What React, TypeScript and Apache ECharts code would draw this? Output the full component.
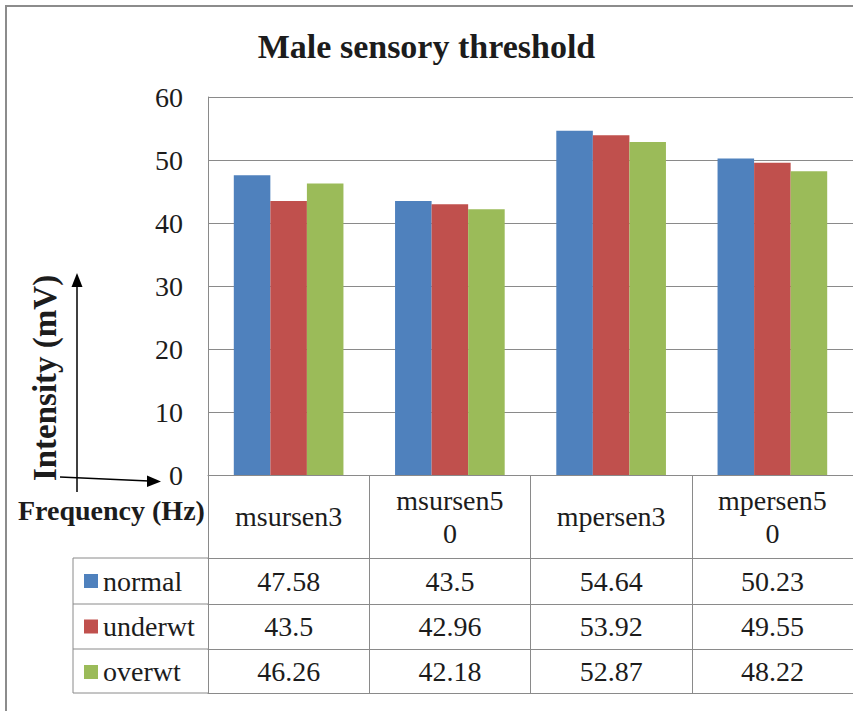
import React, { useEffect, useRef } from 'react';
import * as echarts from 'echarts';

const categories = ['msursen3', 'msursen50', 'mpersen3', 'mpersen50'];
const seriesNames = ['normal', 'underwt', 'overwt'];
const normal = [47.58, 43.5, 54.64, 50.23];
const underwt = [43.5, 42.96, 53.92, 49.55];
const overwt = [46.26, 42.18, 52.87, 48.22];
const yMin = 0;
const yMax = 60;
const yInterval = 10;
const titleText = 'Male sensory threshold';
const yTitle = 'Intensity (mV)';
const xTitle = 'Frequency (Hz)';

const FONT = 'Liberation Serif';
const GRAY = '#8a8a8a';
const TEXT = '#1c1c1c';
const COLORS = ['#4F81BD', '#C0504D', '#9BBB59'];

export default function App() {
  const ref = useRef<HTMLDivElement>(null);
  useEffect(() => {
    if (!ref.current) return;
    const chart = echarts.init(ref.current, undefined, { renderer: 'svg' });
    const rows = [normal, underwt, overwt];
    const rowOffsets = [83, 129, 174];
    const tableLeft = 73;
    const plotLeft = 208;
    const lineY = [558, 604, 649, 693];
    const fs = 28;
    const font = `${fs}px ${FONT}`;

    const option: any = {
      animation: false,
      title: {
        text: titleText,
        left: 'center',
        top: 29,
        padding: [0, 0, 0, 10],
        textStyle: { fontSize: 34, fontWeight: 'bold', fontFamily: FONT, color: TEXT },
      },
      legend: {
        data: seriesNames,
        orient: 'vertical',
        left: 84,
        top: 566,
        padding: 0,
        itemWidth: 14,
        itemHeight: 14,
        itemGap: 15.5,
        icon: 'rect',
        selectedMode: false,
        formatter: () => ' ',
        textStyle: { fontSize: 28, fontFamily: FONT, color: TEXT, lineHeight: 30 },
      },
      grid: { left: plotLeft, top: 97, right: -7, height: 378, containLabel: false },
      xAxis: [
        {
          type: 'category',
          data: categories,
          position: 'bottom',
          axisLine: { show: true, lineStyle: { color: GRAY } },
          axisTick: { show: true, length: 218, alignWithLabel: false, lineStyle: { color: GRAY } },
          axisLabel: { show: false },
          splitLine: { show: false },
        },
        ...rowOffsets.map((off) => ({
          type: 'category',
          data: categories,
          position: 'bottom',
          offset: off,
          axisLine: { show: true, lineStyle: { color: GRAY } },
          axisTick: { show: false },
          axisLabel: { show: false },
          splitLine: { show: false },
        })),
        {
          type: 'category',
          data: categories,
          position: 'bottom',
          offset: 218,
          axisLine: { show: true, lineStyle: { color: GRAY } },
          axisTick: { show: false },
          axisLabel: { show: false },
          splitLine: { show: false },
        },
      ],
      yAxis: {
        type: 'value',
        min: yMin,
        max: yMax,
        interval: yInterval,
        axisLine: { show: true, lineStyle: { color: GRAY } },
        axisTick: { show: false },
        splitLine: { show: true, lineStyle: { color: GRAY } },
        axisLabel: { show: false },
      },
      series: rows.map((r, k) => ({
        name: seriesNames[k],
        type: 'bar',
        data: r,
        xAxisIndex: 0,
        yAxisIndex: 0,
        barGap: '0%',
        barCategoryGap: '32%',
        itemStyle: { color: COLORS[k] },
      })),
    };
    chart.setOption(option);

    // positions from the library's own scales
    const catX: number[] = categories.map((c) => chart.convertToPixel({ xAxisIndex: 0 }, c) as number);
    const axisY = chart.convertToPixel({ yAxisIndex: 0 }, yMin) as number;
    const headerCenter = (axisY + lineY[0]) / 2;
    const rowCenters = [0, 1, 2].map((i) => (lineY[i] + lineY[i + 1]) / 2);

    const g: any[] = [
      {
        type: 'rect',
        silent: true,
        shape: { x: 6, y: 6, width: 900, height: 720 },
        style: { fill: 'none', stroke: '#8c8c8c', lineWidth: 2 },
      },
      ...lineY.map((y) => ({
        type: 'line',
        silent: true,
        shape: { x1: tableLeft, y1: y, x2: plotLeft, y2: y },
        style: { stroke: GRAY, lineWidth: 1 },
      })),
      {
        type: 'line',
        silent: true,
        shape: { x1: tableLeft, y1: lineY[0], x2: tableLeft, y2: lineY[3] },
        style: { stroke: GRAY, lineWidth: 1 },
      },
      {
        type: 'text',
        silent: true,
        x: 45,
        y: 378,
        rotation: Math.PI / 2,
        style: { text: yTitle, align: 'center', verticalAlign: 'middle', font: `bold 33px ${FONT}`, fill: TEXT },
      },
      {
        type: 'text',
        silent: true,
        x: 18,
        y: 510,
        style: { text: xTitle, align: 'left', verticalAlign: 'middle', font: `bold 28px ${FONT}`, fill: TEXT },
      },
      {
        type: 'line',
        silent: true,
        shape: { x1: 77, y1: 492, x2: 77, y2: 285 },
        style: { stroke: '#000', lineWidth: 1.5 },
      },
      {
        type: 'polygon',
        silent: true,
        shape: { points: [[77, 273], [71.5, 287], [82.5, 287]] },
        style: { fill: '#000' },
      },
      {
        type: 'line',
        silent: true,
        shape: { x1: 60, y1: 477, x2: 149, y2: 481 },
        style: { stroke: '#000', lineWidth: 1.5 },
      },
      {
        type: 'polygon',
        silent: true,
        shape: { points: [[161, 481.5], [147, 475.5], [147, 487]] },
        style: { fill: '#000' },
      },
    ];

    // y-axis tick labels
    for (let v = yMin; v <= yMax; v += yInterval) {
      const y = chart.convertToPixel({ yAxisIndex: 0 }, v) as number;
      g.push({
        type: 'text',
        silent: true,
        x: plotLeft - 25,
        y: y - fs / 2,
        style: { text: String(v), align: 'right', verticalAlign: 'top', font, fill: TEXT },
      });
    }

    // header row: category names (wrapped like the data table)
    categories.forEach((c, i) => {
      const st: any = { text: c, font, width: 112, overflow: 'breakAll', lineHeight: 33, align: 'center', verticalAlign: 'top', fill: TEXT };
      let h = 33;
      try {
        const t = new (echarts.graphic as any).Text({ style: { ...st } });
        const r = t.getBoundingRect();
        if (r && r.height > 0) h = r.height;
      } catch (e) {
        h = 33;
      }
      g.push({ type: 'text', silent: true, x: catX[i], y: headerCenter - h / 2, style: st });
    });

    // data rows: legend names and values
    rows.forEach((r, k) => {
      g.push({
        type: 'text',
        silent: true,
        x: 103,
        y: rowCenters[k] - fs / 2,
        style: { text: seriesNames[k], align: 'left', verticalAlign: 'top', font, fill: TEXT },
      });
      r.forEach((v, i) => {
        g.push({
          type: 'text',
          silent: true,
          x: catX[i],
          y: rowCenters[k] - fs / 2,
          style: { text: String(v), align: 'center', verticalAlign: 'top', font, fill: TEXT },
        });
      });
    });

    chart.setOption({ graphic: g });
    return () => chart.dispose();
  }, []);
  return (
    <div
      ref={ref}
      style={{ position: 'absolute', left: 0, top: 0, width: 853, height: 711, background: '#fff' }}
    />
  );
}
